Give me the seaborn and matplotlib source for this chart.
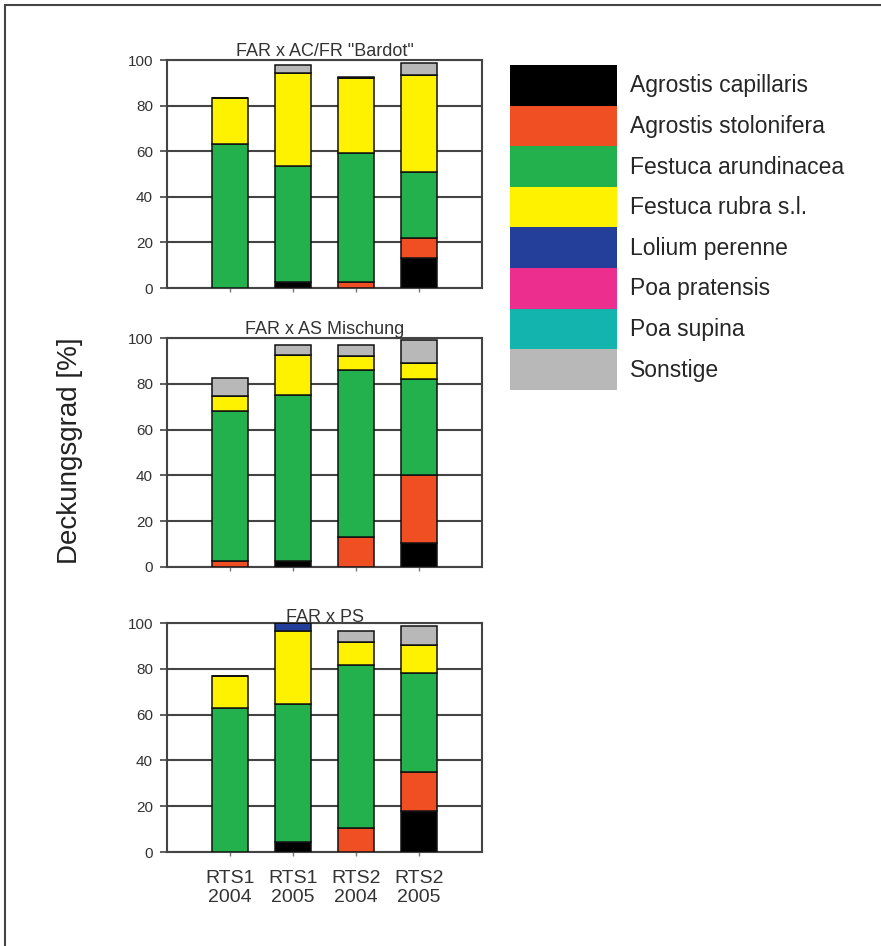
import pandas as pd
import numpy as np
import matplotlib
matplotlib.use("Agg")
import matplotlib.pyplot as plt
import matplotlib.patches as mpatches
import seaborn as sns

sites = ["RTS1\n2004", "RTS1\n2005", "RTS2\n2004", "RTS2\n2005"]
species = ["Agrostis capillaris", "Agrostis stolonifera", "Festuca arundinacea",
           "Festuca rubra s.l.", "Lolium perenne", "Poa pratensis", "Poa supina", "Sonstige"]
colors = ["#000000", "#f04e23", "#22b14c", "#fff200", "#243f99", "#ec2f8f", "#14b4ae", "#b8b8b8"]
titles = ['FAR x AC/FR "Bardot"', "FAR x AS Mischung", "FAR x PS"]

# Deckungsgrad [%] per species, one value per site (same order as sites)
bardot = {
    "Agrostis capillaris":  [0, 2.5, 0, 13],
    "Agrostis stolonifera": [0, 0, 2.5, 9],
    "Festuca arundinacea":  [63, 51, 56.5, 29],
    "Festuca rubra s.l.":   [20.5, 41, 33, 42.5],
    "Lolium perenne":       [0, 0, 0, 0],
    "Poa pratensis":        [0, 0, 0, 0],
    "Poa supina":           [0, 0, 0, 0],
    "Sonstige":             [0, 3.3, 0.5, 5],
}
as_mix = {
    "Agrostis capillaris":  [0, 2.5, 0, 10.5],
    "Agrostis stolonifera": [2.5, 0, 13, 29.5],
    "Festuca arundinacea":  [65.5, 72.5, 73, 42],
    "Festuca rubra s.l.":   [6.5, 17.5, 6, 7],
    "Lolium perenne":       [0, 0, 0, 0],
    "Poa pratensis":        [0, 0, 0, 0],
    "Poa supina":           [0, 0, 0, 0],
    "Sonstige":             [8, 4.5, 5, 10],
}
ps = {
    "Agrostis capillaris":  [0, 4.5, 0, 18],
    "Agrostis stolonifera": [0, 0, 10.5, 17],
    "Festuca arundinacea":  [63, 60, 71, 43],
    "Festuca rubra s.l.":   [14, 32, 10, 12.5],
    "Lolium perenne":       [0, 3.5, 0, 0],
    "Poa pratensis":        [0, 0, 0, 0],
    "Poa supina":           [0, 0, 0, 0],
    "Sonstige":             [0, 0, 5, 8],
}
panels = [bardot, as_mix, ps]

sns.set_style("white")
plt.rcParams["font.family"] = ["Liberation Sans", "DejaVu Sans"]

fig = plt.figure(figsize=(8.81, 9.46), dpi=100)
palette = dict(zip(species, colors))

# axes boxes in pixel terms: left, top, right, bottom
boxes = [(167, 60, 482, 288), (167, 338, 482, 567), (167, 623, 482, 852)]
W, H = 881, 946

for k in range(3):
    l, t, r, b = boxes[k]
    ax = fig.add_axes([l / W, 1 - b / H, (r - l) / W, (b - t) / H])
    rows = []
    for sp in species:
        for s, v in zip(sites, panels[k][sp]):
            rows.append({"site": s, "species": sp, "cover": v})
    df = pd.DataFrame(rows)
    df["site"] = pd.Categorical(df["site"], categories=sites, ordered=True)
    sns.histplot(data=df, x="site", weights="cover", hue="species",
                 hue_order=species[::-1], palette=palette, multiple="stack",
                 discrete=True, shrink=0.57, edgecolor="#111111", linewidth=1.1,
                 alpha=1, legend=False, ax=ax, zorder=3)
    ax.set_xlim(-1, 4)
    ax.set_ylim(0, 100)
    ax.set_yticks([0, 20, 40, 60, 80, 100])
    ax.set_xticks(range(4))
    ax.yaxis.grid(True, color="#444444", linewidth=1.5, zorder=0)
    ax.set_axisbelow(True)
    for sp_ in ax.spines.values():
        sp_.set_color("#444444")
        sp_.set_linewidth(1.5)
    ax.tick_params(axis="y", left=True, length=5, width=1.2, color="#444444",
                   labelsize=11, labelcolor="#333333", pad=5)
    ax.tick_params(axis="x", bottom=True, length=3, width=1, color="#777777",
                   labelsize=14, labelcolor="#333333", pad=10)
    ax.set_xlabel("")
    ax.set_ylabel("")
    if k < 2:
        ax.set_xticklabels([])
    else:
        ax.set_xticklabels(sites, linespacing=1.15)
    ax.set_title(titles[k], fontsize=13, color="#333333", pad=1)

fig.text(70 / W, 1 - 451 / H, "Deckungsgrad [%]", rotation=90, ha="center",
         va="center", fontsize=20, color="#222222")

fs = 16.5
px = fs * 100 / 72
handles = [mpatches.Patch(facecolor=c, edgecolor="none", label=s) for s, c in zip(species, colors)]
fig.legend(handles=handles, loc="upper left", bbox_to_anchor=(510 / W, 1 - 65 / H),
           frameon=False, fontsize=fs, handlelength=107 / px, handleheight=2.35,
           labelspacing=0, handletextpad=13 / px, borderpad=0, borderaxespad=0)

# thin frame round the figure (left and top edges visible)
fig.add_artist(mpatches.Rectangle((5 / W, -0.1), 1.2, 1 - 5 / H + 0.1, transform=fig.transFigure,
                                  fill=False, edgecolor="#444444", linewidth=1.5))

fig.savefig("out.png", dpi=100, facecolor="white")
